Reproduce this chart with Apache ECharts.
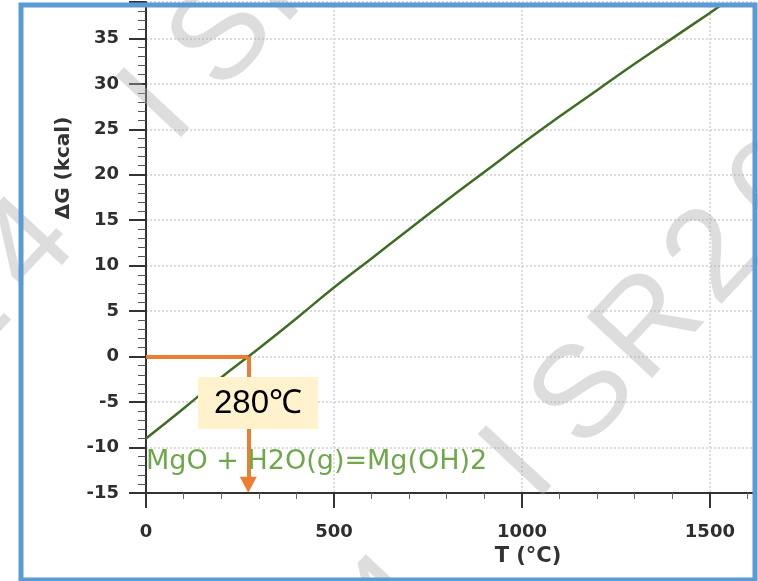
<!DOCTYPE html>
<html>
<head>
<meta charset="utf-8">
<script src="https://cdn.jsdelivr.net/npm/echarts@6/dist/echarts.min.js"></script>
<style>
  html, body { margin: 0; padding: 0; background: #fff; }
  #chart { width: 758px; height: 581px; }
</style>
</head>
<body>
<div id="chart"></div>
<script>
// values
const temps = [0, 100, 200, 300, 400, 500, 600, 700, 800, 900, 1000, 1100, 1200, 1300, 1400, 1500, 1535]
const dG = [-9.0, -5.7, -2.3, 0.9, 4.2, 7.6, 10.8, 14.0, 17.2, 20.3, 23.4, 26.4, 29.3, 32.2, 35.0, 37.8, 38.8]
const crossT = 272
const crossLabel = '280℃'
const reaction = 'MgO + H2O(g)=Mg(OH)2'
const xName = 'T (°C)'
const yName = 'ΔG (kcal)'

const chart = echarts.init(document.getElementById('chart'))

// watermark letters, laid out along two diagonals
const wmStep = [64.8, -69.5]
const wmRows = [
  { text: '2024 ISR2024', anchor: [159, 108], at: 5 },
  { text: '2024 ISR2024', anchor: [521, 466], at: 5 }
]
const watermark = []
wmRows.forEach(row => {
  row.text.split('').forEach((ch, i) => {
    if (ch === ' ') return
    const k = i - row.at
    watermark.push({
      type: 'text',
      x: row.anchor[0] + k * wmStep[0],
      y: row.anchor[1] + k * wmStep[1],
      rotation: 47 * Math.PI / 180,
      z: 200,
      silent: true,
      style: {
        text: ch,
        fill: 'rgba(170,170,170,0.4)',
        font: '130px "Liberation Sans"',
        align: 'center',
        verticalAlign: 'middle'
      }
    })
  })
})

const labelStyle = {
  color: '#2e2e2e',
  fontFamily: 'DejaVu Sans',
  fontWeight: 'bold',
  fontSize: 18
}

chart.setOption({
  animation: false,
  backgroundColor: '#fff',
  grid: { left: 146, right: 3, top: 2, bottom: 88 },
  xAxis: {
    type: 'value',
    min: 0,
    max: 1620,
    interval: 500,
    axisLine: { onZero: false, lineStyle: { color: '#333', width: 2 } },
    axisTick: { length: 15, lineStyle: { color: '#333', width: 2 } },
    minorTick: { show: true, splitNumber: 5, length: 6, lineStyle: { color: '#666', width: 1 } },
    axisLabel: {
      ...labelStyle,
      margin: 30,
      formatter: v => (v % 500 === 0 ? v : '')
    },
    splitLine: { show: true, lineStyle: { color: '#dcdcdc', type: 'dotted', width: 2 } }
  },
  yAxis: {
    type: 'value',
    min: -15,
    max: 39,
    interval: 5,
    axisLine: { onZero: false, lineStyle: { color: '#333', width: 2 } },
    axisTick: { length: 17, lineStyle: { color: '#333', width: 2 } },
    minorTick: { show: true, splitNumber: 5, length: 8, lineStyle: { color: '#555', width: 1 } },
    axisLabel: {
      ...labelStyle,
      margin: 27,
      formatter: v => (v % 5 === 0 ? v : '')
    },
    splitLine: { show: true, lineStyle: { color: '#dcdcdc', type: 'dotted', width: 2 } }
  },
  series: [
    {
      type: 'line',
      data: temps.map((t, i) => [t, dG[i]]),
      smooth: true,
      showSymbol: false,
      lineStyle: { color: '#3f6d24', width: 2.5 },
      markLine: {
        silent: true,
        animation: false,
        label: { show: false },
        lineStyle: { color: '#ED7D31', width: 4, type: 'solid' },
        data: [
          [
            { coord: [0, 0], symbol: 'none' },
            { coord: [crossT, 0], symbol: 'none' }
          ],
          [
            { coord: [crossT, 0], symbol: 'none' },
            { coord: [crossT, -14.1], symbol: 'triangle', symbolSize: [17, 16] }
          ]
        ]
      }
    }
  ],
  graphic: [
    {
      type: 'rect',
      z: 100,
      shape: { x: 198, y: 377, width: 120, height: 52 },
      style: { fill: '#FFF2CC' }
    },
    {
      type: 'text',
      z: 101,
      x: 258,
      y: 404,
      style: {
        text: crossLabel,
        fill: '#000',
        font: '33px "Liberation Sans"',
        align: 'center',
        verticalAlign: 'middle'
      }
    },
    {
      type: 'text',
      z: 100,
      x: 146,
      y: 462,
      style: {
        text: reaction,
        fill: '#6fa84a',
        font: '27px "DejaVu Sans"',
        align: 'left',
        verticalAlign: 'middle'
      }
    },
    {
      type: 'text',
      z: 100,
      x: 64,
      y: 168,
      rotation: Math.PI / 2,
      style: {
        text: yName,
        fill: '#333',
        font: 'bold 20px "DejaVu Sans"',
        align: 'center',
        verticalAlign: 'middle'
      }
    },
    {
      type: 'text',
      z: 100,
      x: 528,
      y: 557,
      style: {
        text: xName,
        fill: '#333',
        font: 'bold 21px "DejaVu Sans"',
        align: 'center',
        verticalAlign: 'middle'
      }
    },
    ...watermark,
    {
      type: 'rect',
      z: 300,
      shape: { x: 21, y: 5, width: 734, height: 575 },
      style: { fill: 'none', stroke: '#5B9BD5', lineWidth: 5 }
    }
  ]
})
</script>
</body>
</html>
